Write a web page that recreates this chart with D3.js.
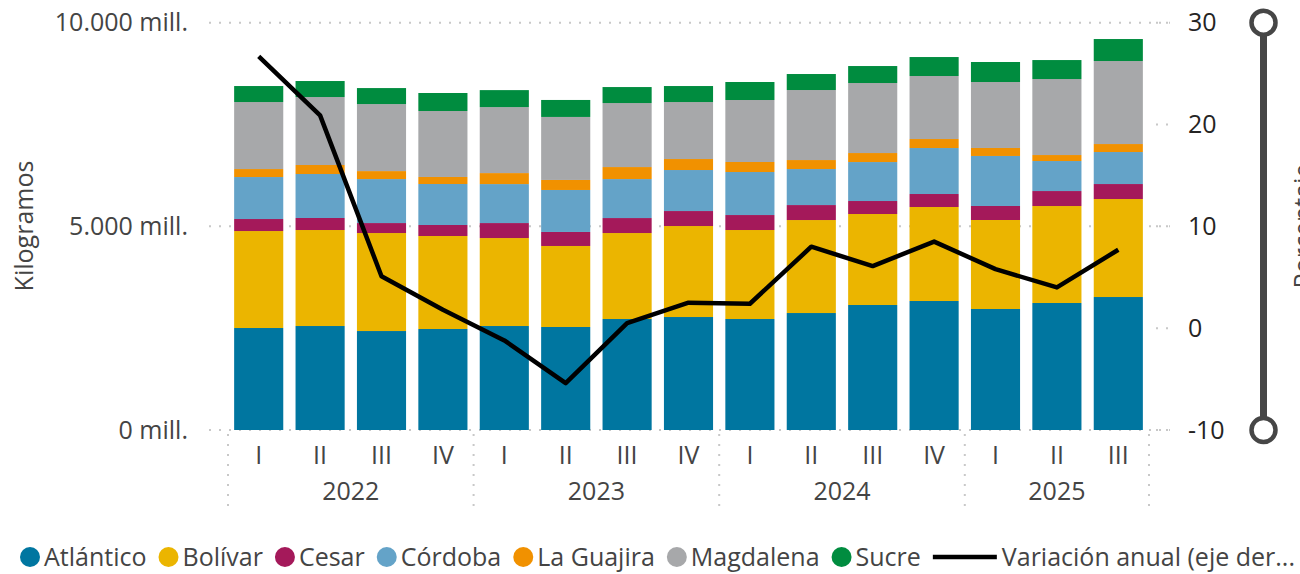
<!DOCTYPE html>
<html>
<head>
<meta charset="utf-8">
<script src="https://cdn.jsdelivr.net/npm/d3@7"></script>
<style>
body { margin: 0; background: #fff; }
svg { display: block; font-family: "Open Sans", sans-serif; }
</style>
</head>
<body>
<svg id="chart" width="1300" height="574"></svg>
<script>
// data (millions of kg, % annual change)
var quarters = ["I","II","III","IV","I","II","III","IV","I","II","III","IV","I","II","III"];
var years = ["2022","2022","2022","2022","2023","2023","2023","2023","2024","2024","2024","2024","2025","2025","2025"];
var atlantico = [2504,2553,2430,2480,2553,2529,2725,2774,2725,2872,3069,3167,2971,3118,3265];
var bolivar   = [2381,2357,2406,2283,2160,1989,2111,2234,2185,2283,2234,2308,2185,2381,2406];
var cesar     = [295,295,245,270,368,344,368,368,368,368,319,319,344,368,368];
var cordoba   = [1031,1080,1080,1007,957,1031,957,1007,1056,884,957,1129,1228,737,786];
var guajira   = [196,221,196,172,270,246,295,270,246,221,221,221,196,147,196];
var magdalena = [1645,1669,1645,1620,1620,1547,1571,1399,1522,1719,1719,1547,1620,1866,2038];
var sucre     = [393,393,393,442,417,417,393,393,442,393,417,466,491,466,540];
var variacion = [26.7,20.9,5.1,1.8,-1.2,-5.4,0.5,2.5,2.4,8.0,6.1,8.5,5.8,4.0,7.7];

var seriesNames = ["Atlántico","Bolívar","Cesar","Córdoba","La Guajira","Magdalena","Sucre"];
var seriesColors = ["#0076A0","#EBB500","#A4195A","#64A3C8","#F19100","#A7A8AA","#008C3F"];
var leftTicks = [0, 5000, 10000];
var rightTicks = [-10, 0, 10, 20, 30];
var lineName = "Variación anual (eje der...";

var seriesValues = [atlantico, bolivar, cesar, cordoba, guajira, magdalena, sucre];
var rows = quarters.map(function(q, i) {
    var r = { i: i };
    seriesNames.forEach(function(n, k) { r[n] = seriesValues[k][i]; });
    return r;
});

var svg = d3.select("svg#chart");

var x = d3.scaleBand()
            .domain(d3.range(quarters.length))
            .range([228, 1149])
            .paddingInner(0.2)
            .paddingOuter(0.1);
var y = d3.scaleLinear().domain([0, 10000]).range([430, 22.7]);
var y2 = d3.scaleLinear().domain([-10, 30]).range([430, 22.7]);
var color = d3.scaleOrdinal().domain(seriesNames).range(seriesColors);

var fmt = function(v) { return d3.format(",")(v).replace(/,/g, ".") + " mill."; };

// grid
svg.append("g").selectAll("line")
    .data(leftTicks)
    .enter()
    .append("line")
    .attr("x1", 209).attr("x2", 1170)
    .attr("y1", d => y(d)).attr("y2", d => y(d))
    .attr("stroke", "#c8c8c8")
    .attr("stroke-width", 2)
    .attr("stroke-dasharray", "2,8");

svg.append("g").selectAll("line")
    .data(rightTicks)
    .enter()
    .append("line")
    .attr("x1", 1156).attr("x2", 1172)
    .attr("y1", d => y2(d)).attr("y2", d => y2(d))
    .attr("stroke", "#c8c8c8")
    .attr("stroke-width", 2)
    .attr("stroke-dasharray", "2,8");

// stacked bars
var stack = d3.stack().keys(seriesNames)(rows);
svg.append("g").selectAll("g")
    .data(stack)
    .enter()
    .append("g")
    .attr("fill", d => color(d.key))
    .selectAll("rect")
    .data(d => d)
    .enter()
    .append("rect")
    .attr("x", d => x(d.data.i))
    .attr("width", x.bandwidth())
    .attr("y", d => y(d[1]))
    .attr("height", d => y(d[0]) - y(d[1]));

// line
var line = d3.line()
                .x((d, i) => x(i) + x.bandwidth() / 2)
                .y(d => y2(d));
svg.append("path")
    .datum(variacion)
    .attr("d", line)
    .attr("fill", "none")
    .attr("stroke", "#000")
    .attr("stroke-width", 4.5)
    .attr("stroke-linejoin", "round");

// left axis labels
svg.append("g").selectAll("text")
    .data(leftTicks)
    .enter()
    .append("text")
    .attr("x", 188)
    .attr("y", d => y(d))
    .attr("dy", "0.35em")
    .attr("text-anchor", "end")
    .attr("font-size", 25)
    .attr("fill", "#444")
    .text(fmt);

// right axis labels
svg.append("g").selectAll("text")
    .data(rightTicks)
    .enter()
    .append("text")
    .attr("x", 1188)
    .attr("y", d => y2(d))
    .attr("dy", "0.35em")
    .attr("font-size", 25)
    .attr("fill", "#252423")
    .text(d => d);

// axis titles
svg.append("text")
    .attr("transform", "translate(33,226) rotate(-90)")
    .attr("text-anchor", "middle")
    .attr("font-size", 25)
    .attr("fill", "#444")
    .text("Kilogramos");
svg.append("text")
    .attr("transform", "translate(1312,226) rotate(-90)")
    .attr("text-anchor", "middle")
    .attr("font-size", 25)
    .attr("fill", "#444")
    .text("Porcentaje");

// slider on the right
svg.append("line")
    .attr("x1", 1263.5).attr("x2", 1263.5)
    .attr("y1", y2(30)).attr("y2", y2(-10))
    .attr("stroke", "#464646")
    .attr("stroke-width", 7);
svg.append("g").selectAll("circle")
    .data([30, -10])
    .enter()
    .append("circle")
    .attr("cx", 1263.5)
    .attr("cy", d => y2(d))
    .attr("r", 12)
    .attr("fill", "#fff")
    .attr("stroke", "#464646")
    .attr("stroke-width", 4.5);

// x axis: quarters and years
svg.append("g").selectAll("text")
    .data(quarters)
    .enter()
    .append("text")
    .attr("x", (d, i) => x(i) + x.bandwidth() / 2)
    .attr("y", 455)
    .attr("dy", "0.35em")
    .attr("text-anchor", "middle")
    .attr("font-size", 25)
    .attr("fill", "#444")
    .text(d => d);

var yearGroups = d3.groups(d3.range(years.length), i => years[i]);
var step = x.step();
var edges = yearGroups.map(g => x(g[1][0]) - (step - x.bandwidth()) / 2);
edges.push(x(years.length - 1) + x.bandwidth() + (step - x.bandwidth()) / 2);

svg.append("g").selectAll("line")
    .data(edges)
    .enter()
    .append("line")
    .attr("x1", d => d).attr("x2", d => d)
    .attr("y1", 434).attr("y2", 512)
    .attr("stroke", "#c8c8c8")
    .attr("stroke-width", 2)
    .attr("stroke-dasharray", "2,8");

svg.append("g").selectAll("text")
    .data(yearGroups)
    .enter()
    .append("text")
    .attr("x", (d, k) => (edges[k] + edges[k + 1]) / 2)
    .attr("y", 491)
    .attr("dy", "0.35em")
    .attr("text-anchor", "middle")
    .attr("font-size", 25)
    .attr("fill", "#444")
    .text(d => d[0]);

// legend
var legend = svg.append("g").attr("font-size", 25).attr("fill", "#444");
var cursor = 20;
seriesNames.forEach(function(n) {
    legend.append("circle")
        .attr("cx", cursor + 10)
        .attr("cy", 557)
        .attr("r", 10)
        .attr("fill", color(n));
    var t = legend.append("text")
        .attr("x", cursor + 24)
        .attr("y", 557)
        .attr("dy", "0.35em")
        .text(n);
    cursor += 24 + t.node().getComputedTextLength() + 12;
});
legend.append("line")
    .attr("x1", cursor).attr("x2", cursor + 64)
    .attr("y1", 557).attr("y2", 557)
    .attr("stroke", "#000")
    .attr("stroke-width", 4.5);
legend.append("text")
    .attr("x", cursor + 69)
    .attr("y", 557)
    .attr("dy", "0.35em")
    .text(lineName);
</script>
</body>
</html>
